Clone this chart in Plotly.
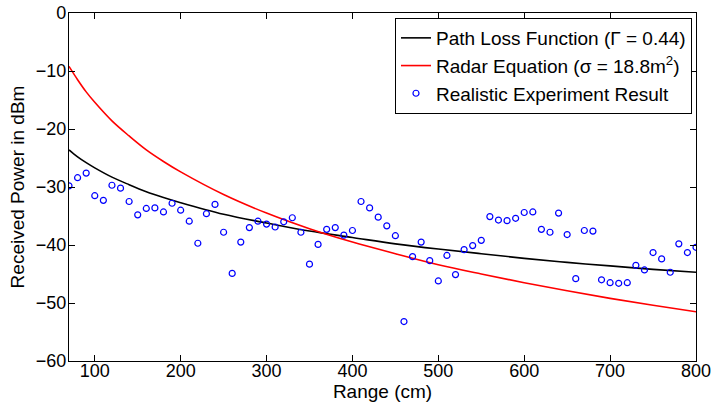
import plotly.graph_objects as go

# Measured points (Range in cm, received power in dBm)
range_cm = [70, 80, 90, 100, 110, 120, 130, 140, 150, 160, 170, 180, 190, 200,
            210, 220, 230, 240, 250, 260, 270, 280, 290, 300, 310, 320, 330, 340,
            350, 360, 370, 380, 390, 400, 410, 420, 430, 440, 450, 460, 470, 480,
            490, 500, 510, 520, 530, 540, 550, 560, 570, 580, 590, 600, 610, 620,
            630, 640, 650, 660, 670, 680, 690, 700, 710, 720, 730, 740, 750, 760,
            770, 780, 790, 800]
measured_dbm = [-29.8, -28.4, -27.6, -31.5, -32.3, -29.7, -30.2, -32.5, -34.8, -33.7,
                -33.6, -34.3, -32.8, -34.0, -35.9, -39.7, -34.6, -33.0, -37.8, -44.9,
                -39.5, -37.0, -35.9, -36.4, -36.9, -36.0, -35.3, -37.8, -43.3, -39.9,
                -37.3, -37.0, -38.3, -37.5, -32.5, -33.6, -35.2, -36.7, -38.4, -53.2,
                -42.0, -39.5, -42.7, -46.2, -41.8, -45.1, -40.8, -40.1, -39.2, -35.1,
                -35.7, -35.8, -35.4, -34.4, -34.3, -37.3, -37.8, -34.5, -38.2, -45.8,
                -37.5, -37.6, -46.0, -46.5, -46.6, -46.5, -43.5, -44.3, -41.3, -42.4,
                -44.7, -39.8, -41.3, -40.4]

# Curves at selected ranges
curve_cm = [70, 80, 90, 100, 120, 140, 160, 180, 200, 250, 300, 350, 400, 450,
            500, 550, 600, 650, 700, 750, 800]
path_loss_dbm = [-23.6, -24.8, -25.8, -26.7, -28.3, -29.6, -30.8, -31.8, -32.7, -34.7,
                 -36.2, -37.6, -38.7, -39.8, -40.7, -41.5, -42.3, -43.0, -43.6, -44.2,
                 -44.7]
radar_dbm = [-9.2, -11.5, -13.6, -15.4, -18.6, -21.2, -23.6, -25.6, -27.4, -31.3,
             -34.5, -37.2, -39.5, -41.5, -43.4, -45.0, -46.5, -47.9, -49.2, -50.4,
             -51.5]

x_ticks = [100, 200, 300, 400, 500, 600, 700, 800]
y_ticks = [0, -10, -20, -30, -40, -50, -60]

FONT = "Liberation Sans, Arial, Helvetica, sans-serif"

fig = go.Figure()
fig.add_trace(go.Scatter(
    x=curve_cm, y=path_loss_dbm, mode="lines", line_shape="spline",
    line=dict(color="black", width=1.6),
    name="Path Loss Function (Γ = 0.44)"))
fig.add_trace(go.Scatter(
    x=curve_cm, y=radar_dbm, mode="lines", line_shape="spline",
    line=dict(color="red", width=1.6),
    name="Radar Equation (σ = 18.8m<sup>2</sup>)"))
fig.add_trace(go.Scatter(
    x=range_cm, y=measured_dbm, mode="markers",
    marker=dict(symbol="circle-open", size=6, color="blue", line=dict(width=1.2, color="blue")),
    name="Realistic Experiment Result"))

axis_common = dict(showline=True, mirror="ticks", linecolor="black", linewidth=1.3,
                   ticks="inside", ticklen=6, tickwidth=1, tickcolor="black",
                   showgrid=False, zeroline=False, automargin=False,
                   ticklabeloverflow="allow",
                   tickfont=dict(family=FONT, size=18, color="black"))

fig.update_xaxes(range=[70, 800], tickvals=x_ticks, ticklabelstandoff=-7,
                 title=dict(text="Range (cm)", font=dict(family=FONT, size=19, color="black"), standoff=0),
                 **axis_common)
fig.update_yaxes(range=[-60, 0], tickvals=y_ticks, ticklabelstandoff=-2,
                 title=dict(text="Received Power in dBm", font=dict(family=FONT, size=19, color="black"), standoff=6),
                 **axis_common)

fig.update_layout(
    width=711, height=405,
    margin=dict(l=69, r=15, t=13, b=44),
    paper_bgcolor="white", plot_bgcolor="white",
    font=dict(family=FONT, color="black"),
    legend=dict(x=0.9936, y=0.9856, xanchor="right", yanchor="top",
                bgcolor="white", bordercolor="black", borderwidth=1,
                font=dict(family=FONT, size=19, color="black"),
                itemwidth=30, tracegroupgap=0),
    showlegend=True,
)

# remove the browser's default 8px body margin so the figure sits at the page corner
fig.write_html("out.html", config={"displayModeBar": False},
               post_script="document.body.style.margin='0px';")
